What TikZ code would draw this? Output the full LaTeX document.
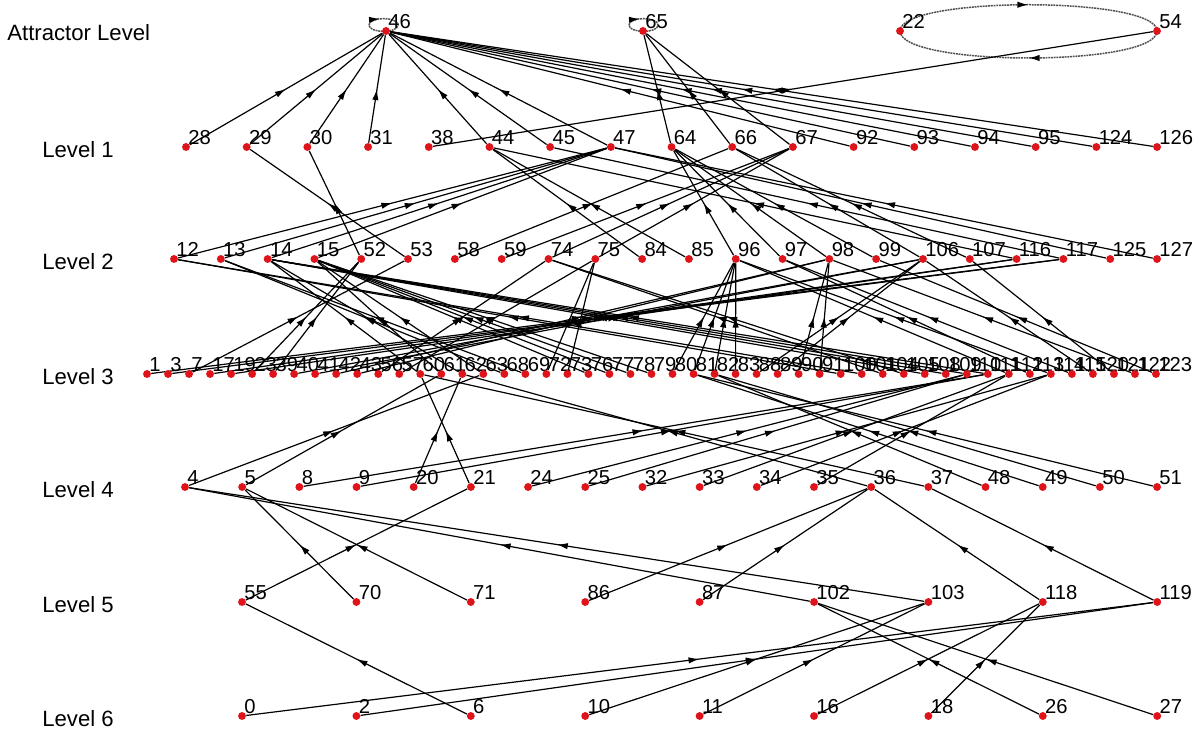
\documentclass[tikz,border=0pt]{standalone}
\usepackage{fontspec}
\setmainfont{Liberation Sans}
\usetikzlibrary{arrows.meta,decorations.markings,backgrounds}
\definecolor{dotred}{RGB}{222,20,26}
\definecolor{loopgray}{RGB}{80,80,80}

\tikzset{
  dot/.style={circle, fill=dotred, inner sep=0pt, minimum size=4.5pt},
  lab/.style={inner sep=0pt, label distance=-0.8pt, font=\fontsize{11.5}{12}\selectfont},
  stnode/.style={dot, label={[lab]above right:#1}},
  lvl/.style={anchor=west, inner sep=0pt, font=\fontsize{12.6}{14}\selectfont},
  trans/.style={line width=0.68pt, postaction={decorate},
    decoration={markings, mark=at position 0.5 with {\arrow{Latex[length=6.3pt,width=3.6pt]}}}},
  loopline/.style={loopgray, line width=0.85pt, dash pattern=on 1.1pt off 0.45pt, postaction={decorate},
    decoration={markings, mark=at position #1 with {\arrow{Latex[length=6.3pt,width=3.6pt,color=black]}}}},
  loopline/.default=0.5
}

\begin{document}
\begin{tikzpicture}[x=0.02cm, y=-0.02cm]
  % 0. 描画範囲 (1200 x 732 px)
  \useasboundingbox (0,0) rectangle (1200,732);

  % 1. レベル見出し
  \node[lvl] (lvA) at (7,33)  {Attractor Level};
  \node[lvl] (lv1) at (42,150) {Level 1};
  \node[lvl] (lv2) at (42,262) {Level 2};
  \node[lvl] (lv3) at (42,377) {Level 3};
  \node[lvl] (lv4) at (42,490) {Level 4};
  \node[lvl] (lv5) at (42,605) {Level 5};
  \node[lvl] (lv6) at (42,719) {Level 6};

  % 2. 状態 (各レベルで等間隔に並べる)
  \foreach \n [count=\k from 0] in {46,65,22,54}
    \node[stnode=\n] (n\n) at ({386+257*\k},31) {};
  \foreach \n [count=\k from 0] in {28,29,30,31,38,44,45,47,64,66,67,92,93,94,95,124,126}
    \node[stnode=\n] (n\n) at ({186+60.69*\k},147) {};
  \foreach \n [count=\k from 0] in {12,13,14,15,52,53,58,59,74,75,84,85,96,97,98,99,106,107,116,117,125,127}
    \node[stnode=\n] (n\n) at ({174+46.81*\k},259) {};
  \foreach \n [count=\k from 0] in {1,3,7,17,19,23,39,40,41,42,43,56,57,60,61,62,63,68,69,72,73,76,77,78,79,80,81,82,83,88,89,90,91,100,101,104,105,108,109,110,111,112,113,114,115,120,121,122,123}
    \node[stnode=\n] (n\n) at ({147+21.02*\k},374) {};
  \foreach \n [count=\k from 0] in {4,5,8,9,20,21,24,25,32,33,34,35,36,37,48,49,50,51}
    \node[stnode=\n] (n\n) at ({185+57.18*\k},487) {};
  \foreach \n [count=\k from 0] in {55,70,71,86,87,102,103,118,119}
    \node[stnode=\n] (n\n) at ({242+114.4*\k},602) {};
  \foreach \n [count=\k from 0] in {0,2,6,10,11,16,18,26,27}
    \node[stnode=\n] (n\n) at ({242+114.4*\k},716) {};

  \begin{scope}[on background layer]
    % 3. アトラクタ (自己ループと 22 <-> 54 の周期)
    \draw[loopline=0.2] ([shift={(-17,-6)}]n46.center) .. controls +(0,-8.5) and +(0,-8.5) .. ([shift={(12,-6)}]n46.center)
      .. controls +(0,8.5) and +(0,8.5) .. ([shift={(-17,-6)}]n46.center);
    \draw[loopline=0.2] ([shift={(-14,-6)}]n65.center) .. controls +(0,-8.5) and +(0,-8.5) .. ([shift={(15,-6)}]n65.center)
      .. controls +(0,8.5) and +(0,8.5) .. ([shift={(-14,-6)}]n65.center);
    \draw[loopline] (n22.center) .. controls +(0,-35) and +(0,-35) .. (n54.center);
    \draw[loopline] (n54.center) .. controls +(0,36) and +(0,36) .. (n22.center);

    % 4. 遷移 (レベル 1 -> アトラクタ)
    \foreach \s/\t in {28/46,29/46,30/46,31/46,44/46,45/46,47/46,92/46,93/46,94/46,95/46,124/46,126/46,
                       64/65,66/65,67/65,38/54}
      \draw[trans] (n\s) -- (n\t);
    % 5. レベル 2 -> レベル 1
    \foreach \s/\t in {12/47,13/47,14/47,15/47,125/47,127/47,52/30,53/29,58/66,106/66,107/66,
                       59/67,74/67,75/67,84/44,85/44,116/44,117/45,96/64,97/64,98/64,99/64}
      \draw[trans] (n\s) -- (n\t);
    % 6. レベル 3 -> レベル 2
    \foreach \s/\t in {1/117,3/117,7/53,17/116,19/116,23/52,39/52,40/106,41/106,88/106,89/106,120/106,
                       42/98,43/98,90/98,91/98,122/98,56/74,104/74,105/74,57/75,72/75,73/75,
                       60/14,62/14,108/14,109/14,110/14,111/14,61/15,63/15,76/15,77/15,78/15,79/15,
                       68/13,69/13,80/96,81/96,82/96,83/96,112/96,114/96,100/12,101/12,
                       113/97,115/97,121/107,123/99}
      \draw[trans] (n\s) -- (n\t);
    % 7. レベル 4 -> レベル 3
    \foreach \s/\t in {4/63,5/61,8/111,9/111,20/62,36/62,21/60,37/60,24/110,25/110,
                       32/114,34/114,33/112,35/112,48/82,50/82,49/81,51/81}
      \draw[trans] (n\s) -- (n\t);
    % 8. レベル 5 -> レベル 4
    \foreach \s/\t in {55/21,70/5,71/5,86/36,87/36,118/36,102/4,103/4,119/37}
      \draw[trans] (n\s) -- (n\t);
    % 9. レベル 6 -> レベル 5
    \foreach \s/\t in {0/119,2/119,6/55,10/103,11/103,16/118,18/118,26/102,27/102}
      \draw[trans] (n\s) -- (n\t);
  \end{scope}
\end{tikzpicture}
\end{document}
